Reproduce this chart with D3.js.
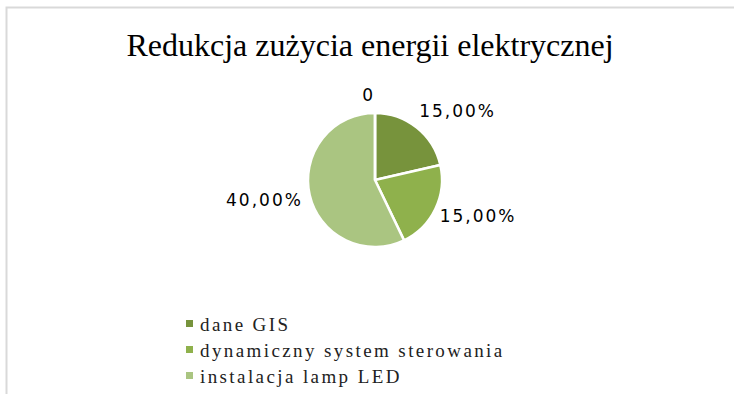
<!DOCTYPE html>
<html>
<head>
<meta charset="utf-8">
<script src="https://cdn.jsdelivr.net/npm/d3@7"></script>
<style>
  html, body { margin: 0; padding: 0; background: #fff; }
  svg { display: block; }
</style>
</head>
<body>
<svg id="chart" width="734" height="394"></svg>
<script>
// Chart data
const title = "Redukcja zużycia energii elektrycznej";
const categories = ["dane GIS", "dynamiczny system sterowania", "instalacja lamp LED", ""];
const values = [0.15, 0.15, 0.40, 0];
const colors = ["#77933c", "#8fb14c", "#aac581", "#c5d8a6"];

const W = 734, H = 394;
const svg = d3.select("#chart");

// Chart area frame
svg.append("rect")
  .attr("x", 6.5).attr("y", 7.5)
  .attr("width", W + 10).attr("height", H + 10)
  .attr("fill", "#fff")
  .attr("stroke", "#d9d9d9").attr("stroke-width", 2);

// Title
svg.append("text")
  .attr("x", 370).attr("y", 56)
  .attr("text-anchor", "middle")
  .style("font-family", "'Liberation Serif', 'Times New Roman', serif")
  .style("font-size", "32px")
  .attr("fill", "#000")
  .text(title);

// Pie
const cx = 375, cy = 180, r = 67;
const pie = d3.pie().sort(null).value(d => d.v);
const arcs = pie(values.map((v, i) => ({ v, i })));
const arc = d3.arc().innerRadius(0).outerRadius(r);

const g = svg.append("g").attr("transform", `translate(${cx},${cy})`);
g.selectAll("path.slice")
  .data(arcs)
  .join("path")
  .attr("class", "slice")
  .attr("d", arc)
  .attr("fill", d => colors[d.data.i])
  .attr("stroke", "#fff")
  .attr("stroke-width", 2.5)
  .attr("stroke-linejoin", "round");

// Data labels: the corner nearest the pie sits on the slice's mid-angle ray
const fmt = v => v === 0 ? "0" : d3.format(".2%")(v).replace(".", ",");
const labelR = r + 7;
g.selectAll("text.lbl")
  .data(arcs)
  .join("text")
  .attr("class", "lbl")
  .each(function (d) {
    const a = (d.startAngle + d.endAngle) / 2;
    const sx = Math.sin(a), cyv = -Math.cos(a);
    const x = labelR * sx, y = labelR * cyv;
    const right = sx > 1e-9;
    const upper = cyv < 0;
    d3.select(this)
      .attr("x", right ? x - 2 : x)
      .attr("y", upper ? y - 5 : y + 10)
      .attr("text-anchor", right ? "start" : "end");
  })
  .style("font-family", "'DejaVu Sans', Verdana, sans-serif")
  .style("font-size", "17px")
  .style("letter-spacing", "2px")
  .attr("fill", "#000")
  .text(d => fmt(d.data.v));

// Legend
const legendItems = categories.map((c, i) => ({ c, i })).filter(d => d.c !== "");
const lg = svg.append("g").attr("transform", "translate(186,331)");
const rows = lg.selectAll("g.row")
  .data(legendItems)
  .join("g")
  .attr("class", "row")
  .attr("transform", (d, k) => `translate(0,${k * 26})`);
rows.append("rect")
  .attr("x", 0).attr("y", -11)
  .attr("width", 7).attr("height", 7)
  .attr("fill", d => colors[d.i]);
rows.append("text")
  .attr("x", 14).attr("y", 0)
  .style("font-family", "'Liberation Serif', 'Times New Roman', serif")
  .style("font-size", "19px")
  .style("letter-spacing", "2.4px")
  .attr("fill", "#222")
  .text(d => d.c);
</script>
</body>
</html>
